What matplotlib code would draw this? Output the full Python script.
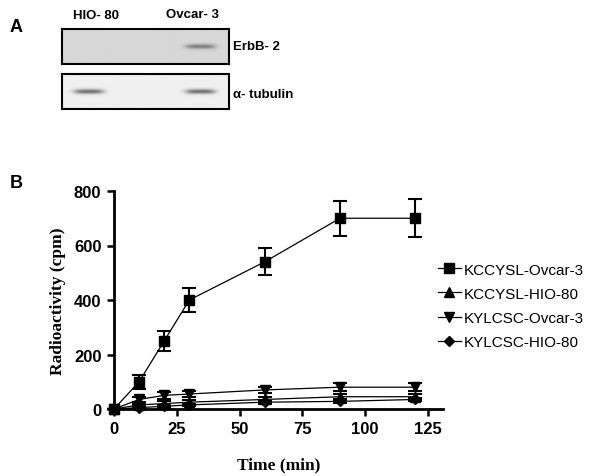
import numpy as np
import matplotlib
matplotlib.use("Agg")
import matplotlib.pyplot as plt

# data
time = [0, 10, 20, 30, 60, 90, 120]
series_names = ["KCCYSL-Ovcar-3", "KCCYSL-HIO-80", "KYLCSC-Ovcar-3", "KYLCSC-HIO-80"]
kccysl_ovcar = [0, 100, 250, 400, 540, 700, 700]
kccysl_ovcar_err = [0, 25, 36, 44, 50, 65, 70]
kccysl_hio = [0, 15, 20, 25, 35, 45, 45]
kccysl_hio_err = [0, 5, 8, 8, 10, 10, 10]
kylcsc_ovcar = [0, 35, 50, 55, 70, 80, 80]
kylcsc_ovcar_err = [0, 10, 12, 12, 12, 15, 15]
kylcsc_hio = [0, 5, 10, 15, 25, 28, 35]
kylcsc_hio_err = [0, 3, 5, 5, 6, 6, 6]
markers = ["s", "^", "v", "D"]

lanes = ["HIO- 80", "Ovcar- 3"]
blot_rows = ["ErbB- 2", "\u03b1- tubulin"]
# band intensity per lane for each blot row
band_int = [[0.0, 0.35], [0.5, 0.5]]
blot_bg = [0.84, 0.94]

fig = plt.figure(figsize=(6.0, 4.77), dpi=100)
W, H = 600, 477

def fx(px):
    return px / W

def fy(py):
    return 1 - py / H

# ---- panel A : blots
fig.text(fx(10), fy(28), "A", fontsize=13, fontweight="bold", family="Liberation Sans", va="center")
fig.text(fx(96), fy(16), lanes[0], fontsize=9.5, fontweight="bold", family="Liberation Sans", ha="center", va="center")
fig.text(fx(193), fy(15), lanes[1], fontsize=9.5, fontweight="bold", family="Liberation Sans", ha="center", va="center")

rng_x = np.linspace(0, 1, 300)
rng_y = np.linspace(0, 1, 60)
XX, YY = np.meshgrid(rng_x, rng_y)
lane_cx = [0.16, 0.83]
boxes = [(30, 65), (75, 110)]
label_y = [47, 95]
for i, (top, bot) in enumerate(boxes):
    bax = fig.add_axes([fx(62), fy(bot), fx(229) - fx(62), (bot - top) / H])
    img = np.full_like(XX, blot_bg[i])
    for cx, amp in zip(lane_cx, band_int[i]):
        img -= amp * np.exp(-((XX - cx) / 0.09) ** 4) * np.exp(-((YY - 0.5) / 0.07) ** 2)
    bax.imshow(img, cmap="gray", vmin=0, vmax=1, aspect="auto", interpolation="bilinear")
    bax.set_xticks([])
    bax.set_yticks([])
    for s in bax.spines.values():
        s.set_linewidth(1.5)
    fig.text(fx(233), fy(label_y[i]), blot_rows[i], fontsize=9.5, fontweight="bold",
             family="Liberation Sans", va="center")

# ---- panel B : uptake curves
fig.text(fx(10), fy(183), "B", fontsize=13, fontweight="bold", family="Liberation Sans", va="center")
ax = fig.add_axes([fx(114), fy(410), fx(443) - fx(114), (410 - 192) / H])

ys = [kccysl_ovcar, kccysl_hio, kylcsc_ovcar, kylcsc_hio]
errs = [kccysl_ovcar_err, kccysl_hio_err, kylcsc_ovcar_err, kylcsc_hio_err]
sizes = [7, 7, 7, 5]
for name, y, e, m, ms in zip(series_names, ys, errs, markers, sizes):
    ax.errorbar(time, y, yerr=e, color="black", marker=m, markersize=ms, lw=0.9,
                elinewidth=1.5, capsize=5, capthick=1.5, label=name, clip_on=False)

ax.set_xlim(0, 131)
ax.set_ylim(0, 800)
ax.set_xticks([0, 25, 50, 75, 100, 125])
ax.set_yticks([0, 200, 400, 600, 800])
ax.spines["top"].set_visible(False)
ax.spines["right"].set_visible(False)
ax.spines["left"].set_linewidth(2)
ax.spines["bottom"].set_linewidth(2)
ax.tick_params(direction="out", length=5, width=1.8, pad=4)
for lab in ax.get_xticklabels() + ax.get_yticklabels():
    lab.set_fontweight("bold")
    lab.set_family("Liberation Sans")
    lab.set_fontsize(12)
ax.set_xlabel("Time (min)", family="Liberation Serif", fontweight="bold", fontsize=12.5, labelpad=14)
ax.set_ylabel("Radioactivity (cpm)", family="Liberation Serif", fontweight="bold", fontsize=12.5, labelpad=6)

handles, labels = ax.get_legend_handles_labels()
handles = [h[0] for h in handles]
fig.legend(handles, labels, loc="upper left", bbox_to_anchor=(fx(424), fy(250)), frameon=False,
           prop={"family": "Liberation Sans", "size": 11}, handlelength=1.5, handletextpad=0.2,
           labelspacing=0.66)

fig.savefig("out.png", dpi=100)
